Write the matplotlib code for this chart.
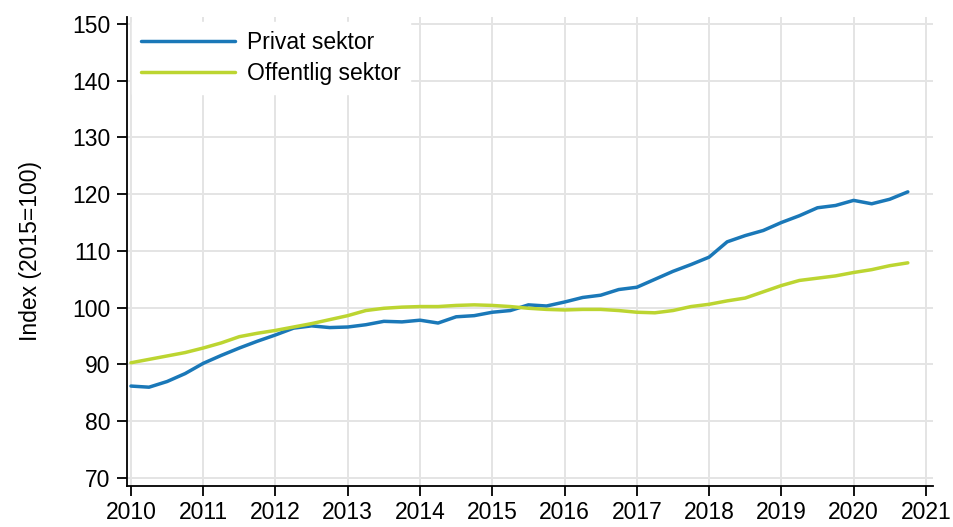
import matplotlib
matplotlib.use("Agg")
import matplotlib.pyplot as plt
import numpy as np

plt.rcParams['font.family'] = ['Liberation Sans', 'DejaVu Sans']

# Quarterly index values (2015=100), 2010Q1 .. 2020Q4
quarters = [2010 + i / 4 for i in range(44)]
privat = [86.2, 86.0, 87.0, 88.4, 90.2, 91.6, 92.9, 94.1, 95.2, 96.4, 96.8, 96.5,
          96.6, 97.0, 97.6, 97.5, 97.8, 97.3, 98.4, 98.6, 99.2, 99.5, 100.5, 100.3,
          101.0, 101.8, 102.2, 103.2, 103.6, 105.0, 106.4, 107.6, 108.9, 111.6, 112.7, 113.6,
          115.0, 116.2, 117.6, 118.0, 118.9, 118.3, 119.1, 120.4]
offentlig = [90.3, 90.9, 91.5, 92.1, 92.9, 93.8, 94.9, 95.5, 96.0, 96.6, 97.2, 97.9,
             98.6, 99.5, 99.9, 100.1, 100.2, 100.2, 100.4, 100.5, 100.4, 100.2, 99.9, 99.7,
             99.6, 99.7, 99.7, 99.5, 99.2, 99.1, 99.5, 100.2, 100.6, 101.2, 101.7, 102.8,
             103.9, 104.8, 105.2, 105.6, 106.2, 106.7, 107.4, 107.9]
series_names = ["Privat sektor", "Offentlig sektor"]
colors = ["#1a78b8", "#bcd531"]
x_ticks = list(range(2010, 2022))
y_ticks = list(range(70, 151, 10))

FS = 16.5

fig = plt.figure(figsize=(9.54, 5.27), dpi=100)
ax = fig.add_axes([0.1331, 0.0778, 0.845, 0.890])

ax.plot(quarters, privat, color=colors[0], lw=2.5, label=series_names[0],
        solid_joinstyle='round', solid_capstyle='round', zorder=3)
ax.plot(quarters, offentlig, color=colors[1], lw=2.5, label=series_names[1],
        solid_joinstyle='round', solid_capstyle='round', zorder=3)

ax.set_xlim(2009.945, 2021.1)
ax.set_ylim(68.6, 151.2)
ax.set_xticks(x_ticks)
ax.set_yticks(y_ticks)
ax.set_xticklabels([str(t) for t in x_ticks])
ax.grid(True, color="#e4e4e4", lw=1.4, zorder=0)
ax.set_axisbelow(True)

for s in ['top', 'right']:
    ax.spines[s].set_visible(False)
for s in ['left', 'bottom']:
    ax.spines[s].set_color('black')
    ax.spines[s].set_linewidth(1.3)

ax.tick_params(axis='both', direction='out', length=7, width=1.3, colors='black',
               labelsize=FS)
ax.tick_params(axis='y', pad=5)
ax.tick_params(axis='x', pad=4)
ax.set_ylabel("Index (2015=100)", fontsize=FS, labelpad=22)

leg = ax.legend(loc='upper left', bbox_to_anchor=(0.0, 1.0), frameon=True,
                fontsize=FS, handlelength=4.1, handletextpad=0.55,
                labelspacing=0.35, borderpad=0.4, borderaxespad=0.2)
leg.get_frame().set_facecolor('white')
leg.get_frame().set_edgecolor('white')
leg.get_frame().set_alpha(1.0)
leg.get_frame().set_boxstyle('square', pad=0.0)

fig.savefig("out.png", dpi=100)
